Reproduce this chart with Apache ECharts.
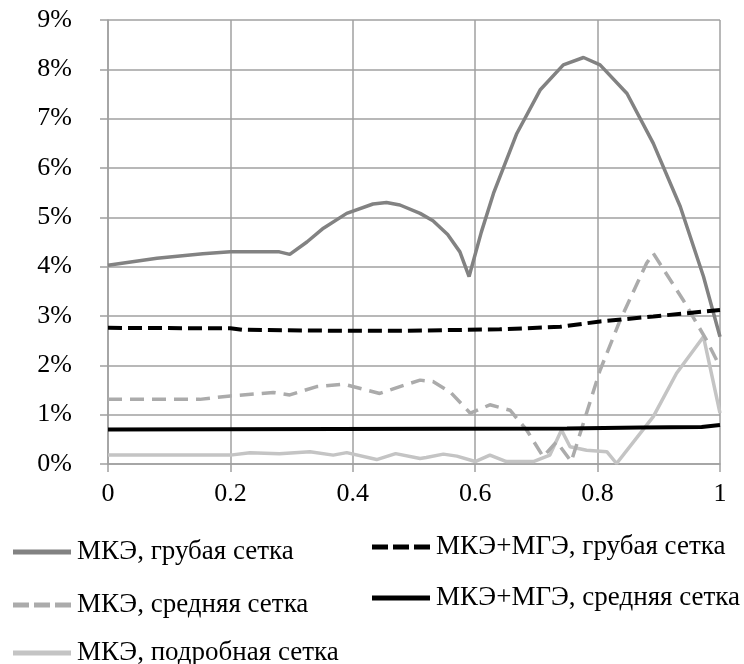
<!DOCTYPE html>
<html>
<head>
<meta charset="utf-8">
<script src="https://cdn.jsdelivr.net/npm/echarts@6/dist/echarts.min.js"></script>
<style>html,body{margin:0;padding:0;background:#fff}#c{width:744px;height:664px}</style>
</head>
<body>
<div id="c"></div>
<script>
// ---- data ----
var seriesNames = ["МКЭ, грубая сетка", "МКЭ, средняя сетка", "МКЭ, подробная сетка", "МКЭ+МГЭ, грубая сетка", "МКЭ+МГЭ, средняя сетка"];

var coarseX = [0, 0.08, 0.155, 0.2, 0.28, 0.297, 0.325, 0.352, 0.39, 0.433, 0.455, 0.477, 0.51, 0.531, 0.555, 0.575, 0.59, 0.61, 0.63, 0.668, 0.706, 0.744, 0.777, 0.804, 0.848, 0.891, 0.935, 0.973, 1.0];
var coarseY = [4.03, 4.17, 4.26, 4.30, 4.30, 4.25, 4.50, 4.78, 5.08, 5.27, 5.30, 5.25, 5.08, 4.93, 4.65, 4.30, 3.80, 4.70, 5.49, 6.70, 7.58, 8.09, 8.24, 8.09, 7.51, 6.50, 5.22, 3.80, 2.58];

var mediumX = [0, 0.15, 0.2, 0.27, 0.297, 0.341, 0.385, 0.444, 0.477, 0.51, 0.531, 0.56, 0.592, 0.624, 0.657, 0.684, 0.711, 0.733, 0.757, 0.804, 0.837, 0.88, 0.891, 0.94, 0.978, 1.0];
var mediumY = [1.31, 1.31, 1.38, 1.45, 1.40, 1.57, 1.62, 1.43, 1.57, 1.70, 1.67, 1.45, 1.03, 1.20, 1.09, 0.69, 0.15, 0.45, 0.05, 1.90, 2.92, 4.07, 4.27, 3.32, 2.51, 1.97];

var fineX = [0, 0.2, 0.232, 0.28, 0.33, 0.368, 0.39, 0.439, 0.47, 0.51, 0.52, 0.548, 0.57, 0.6, 0.624, 0.651, 0.695, 0.722, 0.741, 0.755, 0.782, 0.815, 0.831, 0.891, 0.929, 0.973, 1.0];
var fineY = [0.18, 0.18, 0.23, 0.21, 0.25, 0.18, 0.23, 0.09, 0.21, 0.11, 0.13, 0.20, 0.16, 0.05, 0.18, 0.05, 0.05, 0.18, 0.69, 0.35, 0.28, 0.25, 0.01, 0.96, 1.84, 2.58, 1.03];

var hybCoarseX = [0, 0.2, 0.22, 0.38, 0.477, 0.64, 0.739, 0.804, 0.891, 0.94, 1.0];
var hybCoarseY = [2.76, 2.75, 2.72, 2.70, 2.70, 2.73, 2.78, 2.89, 2.99, 3.05, 3.12];

var hybMediumX = [0, 0.75, 0.87, 0.97, 1.0];
var hybMediumY = [0.70, 0.72, 0.74, 0.75, 0.79];

function pairs(xs, ys) { return xs.map(function (x, i) { return [x, ys[i]]; }); }

var FONT = "'Liberation Serif', 'DejaVu Serif', serif";
var SOLID_ICON = 'path://M0,0H58V5H0Z';
var DASH_ICON = 'path://M0,0H16V5H0Z M21,0H37V5H21Z M42,0H58V5H42Z';
var styles = [
  { color: '#828282', width: 3.5, type: 'solid', icon: SOLID_ICON },
  { color: '#ababab', width: 3.5, type: [14, 8], icon: DASH_ICON },
  { color: '#c4c4c4', width: 3.5, type: 'solid', icon: SOLID_ICON },
  { color: '#000000', width: 4, type: [14, 6], icon: DASH_ICON },
  { color: '#000000', width: 4, type: 'solid', icon: SOLID_ICON }
];
var dataSets = [
  pairs(coarseX, coarseY), pairs(mediumX, mediumY), pairs(fineX, fineY),
  pairs(hybCoarseX, hybCoarseY), pairs(hybMediumX, hybMediumY)
];
var legendPos = [
  { left: 13, top: 537 }, { left: 13, top: 590 }, { left: 13, top: 638 },
  { left: 372, top: 532 }, { left: 372, top: 583 }
];

var chart = echarts.init(document.getElementById('c'), null, { renderer: 'canvas' });
chart.setOption({
  animation: false,
  backgroundColor: '#ffffff',
  grid: { left: 108, right: 24, top: 20, bottom: 200, containLabel: false },
  xAxis: {
    type: 'value', min: 0, max: 1, interval: 0.2,
    axisLine: { show: true, lineStyle: { color: '#a0a0a0', width: 1.5 } },
    axisTick: { show: true, length: 8, lineStyle: { color: '#a0a0a0', width: 1.5 } },
    splitLine: { show: true, lineStyle: { color: '#a0a0a0', width: 1.5 } },
    axisLabel: { color: '#000', fontFamily: FONT, fontSize: 26, margin: 17 }
  },
  yAxis: {
    type: 'value', min: 0, max: 9, interval: 1,
    axisLine: { show: true, lineStyle: { color: '#a0a0a0', width: 1.5 } },
    axisTick: { show: true, length: 8, lineStyle: { color: '#a0a0a0', width: 1.5 } },
    splitLine: { show: true, lineStyle: { color: '#a0a0a0', width: 1.5 } },
    axisLabel: { color: '#000', fontFamily: FONT, fontSize: 26, margin: 36, formatter: '{value}%' }
  },
  legend: seriesNames.map(function (n, i) {
    return {
      data: [{ name: n, icon: styles[i].icon }],
      left: legendPos[i].left, top: legendPos[i].top,
      itemWidth: 58, itemHeight: 5, itemGap: 4, padding: 0,
      itemStyle: { color: styles[i].color, borderWidth: 0 },
      textStyle: { color: '#000', fontFamily: FONT, fontSize: 27, lineHeight: 30, padding: [0, 0, 0, 1] }
    };
  }),
  series: seriesNames.map(function (n, i) {
    return {
      name: n, type: 'line', data: dataSets[i], symbol: 'none', smooth: false,
      lineStyle: { color: styles[i].color, width: styles[i].width, type: styles[i].type },
      itemStyle: { color: styles[i].color },
      z: [2, 3, 2, 4, 4][i]
    };
  })
});
</script>
</body>
</html>
